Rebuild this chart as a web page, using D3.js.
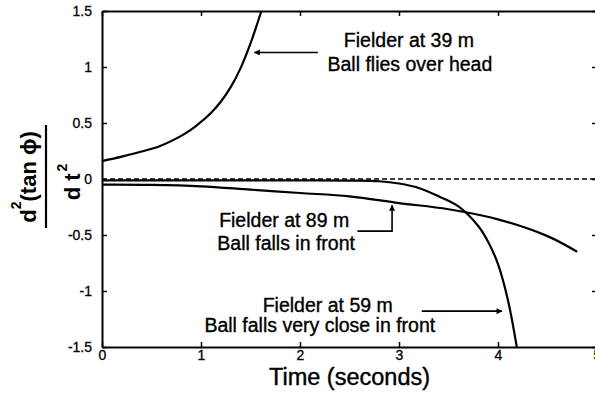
<!DOCTYPE html>
<html>
<head>
<meta charset="utf-8">
<script src="https://cdn.jsdelivr.net/npm/d3@7"></script>
<style>
  html, body { margin: 0; padding: 0; background: #fff; }
  svg { display: block; font-family: "Liberation Sans", Arial, Helvetica, sans-serif; }
</style>
</head>
<body>
<svg id="chart" width="595" height="397"></svg>
<script>
// ---- data ----
const xTicks = [0, 1, 2, 3, 4, 5];
const yTicks = [-1.5, -1, -0.5, 0, 0.5, 1, 1.5];
const yTickLabels = ["-1.5", "-1", "-0.5", "0", "0.5", "1", "1.5"];

// Fielder at 39 m
const t39 = [0, 0.2, 0.4, 0.6, 0.8, 0.9, 1.0, 1.1, 1.2, 1.3, 1.4, 1.5, 1.61];
const v39 = [0.16, 0.2, 0.245, 0.3, 0.385, 0.44, 0.51, 0.59, 0.69, 0.82, 0.99, 1.21, 1.5];

// Fielder at 59 m
const t59 = [0, 0.5, 1, 1.5, 2, 2.5, 2.8, 3.0, 3.2, 3.4, 3.6, 3.8, 3.9, 4.0, 4.1, 4.19];
const v59 = [-0.012, -0.012, -0.012, -0.012, -0.012, -0.014, -0.02, -0.04, -0.08, -0.155, -0.245, -0.42, -0.56, -0.76, -1.08, -1.5];

// Fielder at 89 m
const t89 = [0, 0.5, 1, 1.5, 2, 2.5, 3, 3.5, 4, 4.5, 4.8];
const v89 = [-0.05, -0.052, -0.065, -0.095, -0.125, -0.155, -0.215, -0.27, -0.36, -0.51, -0.65];

// zero reference (dashed)
const tZero = [0, 5];
const vZero = [0, 0];

// annotations (data coordinates)
const labels = [
  { text: "Fielder at 39 m", t: 3.1, v: 1.175 },
  { text: "Ball flies over head", t: 3.11, v: 0.96 },
  { text: "Fielder at 89 m", t: 1.84, v: -0.425 },
  { text: "Ball falls in front", t: 1.86, v: -0.63 },
  { text: "Fielder at 59 m", t: 2.28, v: -1.19 },
  { text: "Ball falls very close in front", t: 2.2, v: -1.37 }
];
const arrows = [
  { pts: [[2.18, 1.13], [1.54, 1.13]] },
  { pts: [[2.58, -0.465], [2.93, -0.465], [2.93, -0.235]] },
  { pts: [[3.23, -1.18], [4.04, -1.18]] }
];

// ---- layout ----
const svg = d3.select("#chart");
const x = d3.scaleLinear().domain([0, 5]).range([102, 597]);
const y = d3.scaleLinear().domain([-1.5, 1.5]).range([347, 11]);

svg.append("rect").attr("width", 595).attr("height", 397).attr("fill", "#fff");

// defs: arrowhead
svg.append("defs").append("marker")
  .attr("id", "ah").attr("viewBox", "0 0 10 10").attr("refX", 9).attr("refY", 5)
  .attr("markerWidth", 8).attr("markerHeight", 6).attr("markerUnits", "userSpaceOnUse")
  .attr("orient", "auto")
  .append("path").attr("d", "M0,0 L10,5 L0,10 z").attr("fill", "#000");

// axes
const fmt = d => yTickLabels[yTicks.indexOf(d)];
const gx = svg.append("g").attr("transform", `translate(0,${y(-1.5)})`)
  .call(d3.axisBottom(x).tickValues(xTicks).tickFormat(d3.format("d")).tickSizeInner(-5).tickSizeOuter(0).tickPadding(3));
const gy = svg.append("g").attr("transform", `translate(${x(0)},0)`)
  .call(d3.axisLeft(y).tickValues(yTicks).tickFormat(fmt).tickSizeInner(-5).tickSizeOuter(0).tickPadding(10));
const gt = svg.append("g").attr("transform", `translate(0,${y(1.5)})`)
  .call(d3.axisTop(x).tickValues(xTicks).tickFormat("").tickSizeInner(-5).tickSizeOuter(0));
const gr = svg.append("g").attr("transform", `translate(${x(5)},0)`)
  .call(d3.axisRight(y).tickValues(yTicks).tickFormat("").tickSizeInner(-5).tickSizeOuter(0));
[gx, gy, gt, gr].forEach(g => {
  g.select(".domain").attr("stroke", "#000").attr("stroke-width", 2);
  g.selectAll(".tick line").attr("stroke", "#000").attr("stroke-width", 1.5);
  g.selectAll(".tick text").attr("fill", "#000").attr("font-size", 14)
    .attr("stroke", "#000").attr("stroke-width", 0.3)
    .attr("font-family", "Liberation Sans, Arial, sans-serif");
});

// series
const line = d3.line().x(d => x(d[0])).y(d => y(d[1])).curve(d3.curveCatmullRom.alpha(0.5));
const zip = (a, b) => a.map((t, i) => [t, b[i]]);

svg.append("path").datum(zip(tZero, vZero)).attr("d", line)
  .attr("fill", "none").attr("stroke", "#000").attr("stroke-width", 1.6)
  .attr("stroke-dasharray", "5,3");

[[t39, v39], [t59, v59], [t89, v89]].forEach(([t, v]) => {
  svg.append("path").datum(zip(t, v)).attr("d", line)
    .attr("fill", "none").attr("stroke", "#000").attr("stroke-width", 2.2)
    .attr("stroke-linejoin", "round");
});

// annotations
labels.forEach(l => {
  svg.append("text").attr("x", x(l.t)).attr("y", y(l.v))
    .attr("text-anchor", "middle").attr("font-size", 19.5).attr("fill", "#000")
    .attr("stroke", "#000").attr("stroke-width", 0.35)
    .text(l.text);
});
const aline = d3.line().x(d => x(d[0])).y(d => y(d[1]));
arrows.forEach(a => {
  svg.append("path").attr("d", aline(a.pts)).attr("fill", "none")
    .attr("stroke", "#000").attr("stroke-width", 1.6).attr("marker-end", "url(#ah)");
});

// x axis title
svg.append("text").attr("x", (x(0) + x(5)) / 2).attr("y", 385)
  .attr("text-anchor", "middle").attr("font-size", 23.5).attr("fill", "#000")
  .attr("stroke", "#000").attr("stroke-width", 0.4)
  .text("Time (seconds)");

// y axis title: fraction d²(tan φ) / d t²
const num = svg.append("text").attr("transform", "translate(36,177) rotate(-90)")
  .attr("text-anchor", "middle").attr("font-size", 22).attr("font-weight", "bold").attr("fill", "#000");
num.append("tspan").text("d");
num.append("tspan").attr("dy", -15).attr("font-size", 14).text("2");
num.append("tspan").attr("dy", 15).text("(tan \u03D5)");

svg.append("line").attr("x1", 46).attr("x2", 46).attr("y1", 125).attr("y2", 228)
  .attr("stroke", "#000").attr("stroke-width", 2.2);

const den = svg.append("text").attr("transform", "translate(80,182) rotate(-90)")
  .attr("text-anchor", "middle").attr("font-size", 22).attr("font-weight", "bold").attr("fill", "#000");
den.append("tspan").text("d");
den.append("tspan").attr("dx", 6).text("t");
den.append("tspan").attr("dy", -13).attr("dx", 2).attr("font-size", 14).text("2");
</script>
</body>
</html>
